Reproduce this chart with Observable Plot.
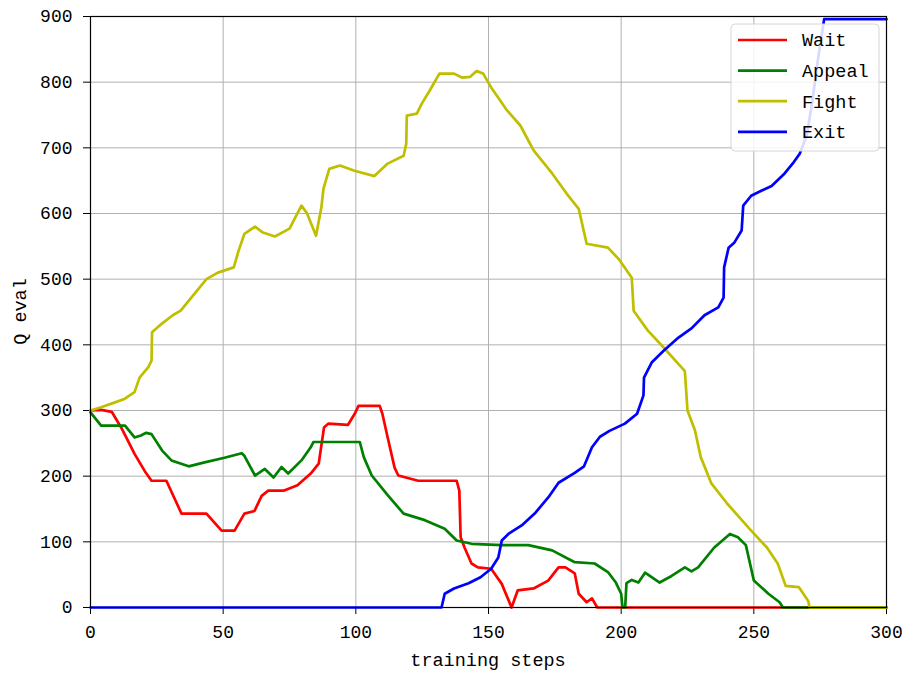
<!DOCTYPE html>
<html>
<head>
<meta charset="utf-8">
<script src="https://cdn.jsdelivr.net/npm/d3@7"></script>
<script src="https://cdn.jsdelivr.net/npm/@observablehq/plot@0.6"></script>
<style>
  html, body { margin: 0; padding: 0; background: white; }
</style>
</head>
<body>
<div id="chart"></div>
<script>
// ---- data ----
const seriesNames = ["Wait", "Appeal", "Fight", "Exit"];
const seriesColors = ["#ff0000", "#008000", "#bfbf00", "#0000ff"];
const xTicks = [0, 50, 100, 150, 200, 250, 300];
const yTicks = [0, 100, 200, 300, 400, 500, 600, 700, 800, 900];

const waitSteps = [0,4,8,11.7,16.6,20.4,23,28.6,34.3,43.7,49.4,54.3,58,61.8,64.5,67,73,78,83,86,88,89.6,97,99.6,101,109,110,112,114.6,116,123.5,138,139,139.5,141,143.6,146,151,155,158.7,161,167,172.5,176.4,179,182.5,184,187,189,191,300];
const waitQ = [300,301,298,273,234,208,193,193,143,143,117,117,143,147,170,178,178,186,204,219,274,280,278,295,307,307,295,259,213,201,193,193,178,107,91,67,61,59,36,0,26,29,41,61,61,52,21,8,14,0,0];

const appealSteps = [0,4,13,16.6,19,21,23,27,30.5,37,43,50.5,57,58,62,65.7,69,72,74.5,79.5,83,84,101.5,103,106,112,118,126,133.5,138,143.6,155,165,174,182.5,190,195,198,200,200.5,201.5,202,204,206.5,209,214.5,219,224,226.5,229,235,241,244,247,250,255.5,259.7,261,300];
const appealQ = [297,277,277,259,262,266,264,239,224,215,221,228,235,231,201,211,198,214,204,224,244,252,252,229,201,171,143,133,120,102,97,95,95,87,69,67,54,38,21,0,0,37,42,38,53,38,48,61,55,61,91,112,107,95,41,21,8,0,0];

const fightSteps = [0,4,9,13,16.6,18.5,21.8,23,23.2,26.8,31,34,38,43.7,48,54,55.8,58,62,65,69.5,75,79.5,81.5,85,87,87.8,90,94,99.5,107,112,118,119,119.2,123,124.8,127.8,131.5,137,140,143,145.5,148,151,157,162,167,174,179.5,184,187,195,199,204,204.7,210,216,224,225,227.8,230,234,240,249,255,259,262,267,270.5,271,300];
const fightQ = [300,305,312,318,328,350,366,376,419,432,445,452,472,500,510,518,543,569,580,571,565,577,612,601,566,609,638,668,673,665,657,676,688,706,749,752,767,787,813,813,807,808,817,813,792,757,734,696,661,630,607,554,548,531,502,452,422,396,360,300,270,229,189,158,117,91,67,33,31,10,0,0];

const exitSteps = [0,132.3,133.5,137,142.5,147,151,153.7,155,157.5,162.5,167.4,172.6,176.4,182.5,186,189,192,195.6,201.4,206,208.4,208.6,211.5,216,221.6,226.5,231.4,236.6,238.6,238.8,240.5,242.7,245.4,246,249,253,256.7,261.6,265,267.3,270,272,274,276.5,300];
const exitQ = [0,0,21,29,37,46,59,76,102,112,125,143,168,190,205,215,244,260,269,280,295,323,350,373,391,411,425,445,457,472,518,548,556,574,612,627,635,642,661,678,691,720,770,830,896,896];

const xLabel = "training steps";
const yLabel = "Q eval";

// ---- build tables ----
const stepsList = [waitSteps, appealSteps, fightSteps, exitSteps];
const qList = [waitQ, appealQ, fightQ, exitQ];
const tables = seriesNames.map((name, i) =>
  stepsList[i].map((s, j) => ({step: s, q: qList[i][j], action: name}))
);

const W = 902, H = 675;
const mL = 90, mR = 16, mT = 16, mB = 68;
const FONT = "'Liberation Mono', 'DejaVu Sans Mono', monospace";

const chart = Plot.plot({
  width: W,
  height: H,
  marginLeft: mL,
  marginRight: mR,
  marginTop: mT,
  marginBottom: mB,
  style: {fontFamily: FONT, fontSize: "18px", background: "white", color: "black"},
  x: {domain: [0, 300], ticks: xTicks, tickFormat: d => String(d), tickSize: 7, tickPadding: 11, label: null},
  y: {domain: [0, 900], ticks: yTicks, tickFormat: d => String(d), tickSize: 7, tickPadding: 11, label: null},
  marks: [
    Plot.ruleX(xTicks, {stroke: "#b0b0b0", strokeWidth: 1}),
    Plot.ruleY(yTicks, {stroke: "#b0b0b0", strokeWidth: 1}),
    ...tables.map((t, i) => Plot.line(t, {x: "step", y: "q", stroke: seriesColors[i], strokeWidth: 2.7})),
    Plot.frame({stroke: "black", strokeWidth: 1.2})
  ]
});

document.getElementById("chart").appendChild(chart);

// ---- axis labels and legend ----
const svg = d3.select(chart);
const plotCx = mL + (W - mL - mR) / 2;
const plotCy = mT + (H - mT - mB) / 2;

svg.append("text")
  .attr("x", plotCx).attr("y", 666)
  .attr("text-anchor", "middle")
  .style("font-family", FONT).style("font-size", "18.5px").attr("fill", "black")
  .text(xLabel);

svg.append("text")
  .attr("transform", `translate(26,${plotCy}) rotate(-90)`)
  .attr("text-anchor", "middle")
  .style("font-family", FONT).style("font-size", "18.5px").attr("fill", "black")
  .text(yLabel);

const lg = svg.append("g");
const lgX = 731, lgY = 24, lgW = 148, lgH = 127;
lg.append("rect")
  .attr("x", lgX).attr("y", lgY).attr("width", lgW).attr("height", lgH)
  .attr("rx", 4).attr("fill", "white").attr("fill-opacity", 0.85)
  .attr("stroke", "#d6d6d6").attr("stroke-width", 1);
seriesNames.forEach((name, i) => {
  const cy = 40 + i * 30.6;
  lg.append("line")
    .attr("x1", 738).attr("x2", 787).attr("y1", cy).attr("y2", cy)
    .attr("stroke", seriesColors[i]).attr("stroke-width", 2.7);
  lg.append("text")
    .attr("x", 802).attr("y", cy).attr("dy", "0.35em")
    .attr("text-anchor", "start")
    .style("font-family", FONT).style("font-size", "18.5px").attr("fill", "black")
    .text(name);
});
</script>
</body>
</html>
